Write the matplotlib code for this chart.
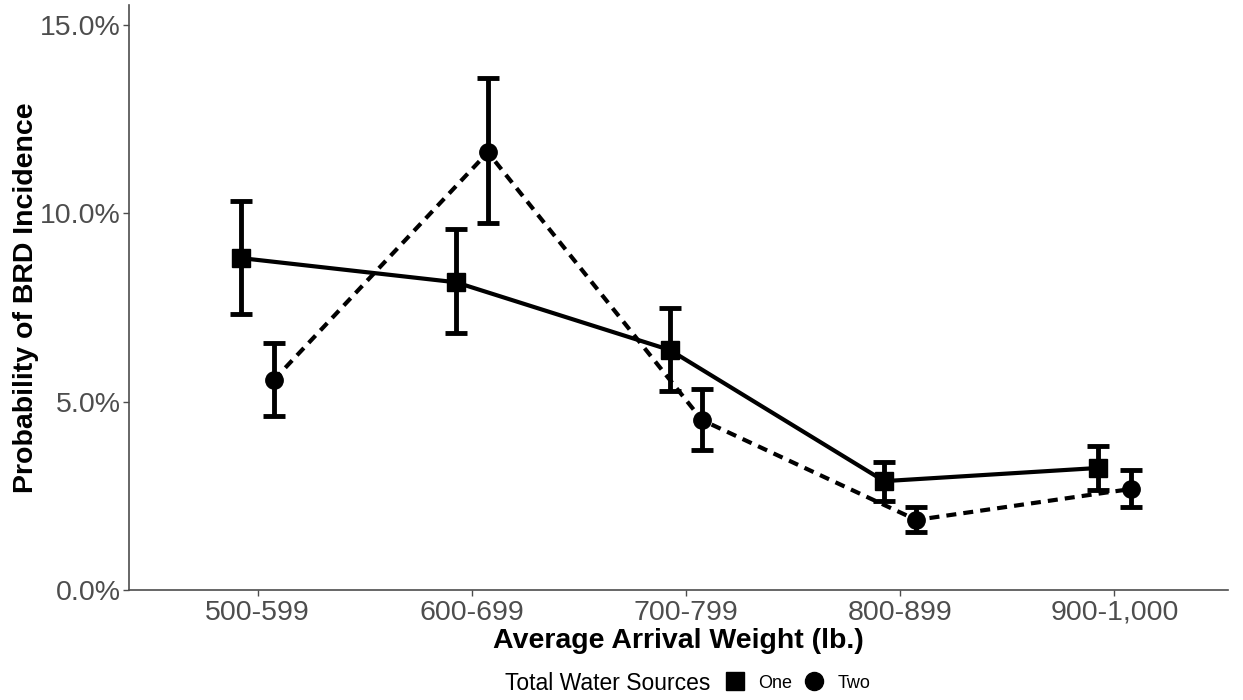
import numpy as np
import matplotlib
matplotlib.use('Agg')
import matplotlib.pyplot as plt
from matplotlib.lines import Line2D
from matplotlib.ticker import PercentFormatter

plt.rcParams['font.family'] = ['Liberation Sans', 'DejaVu Sans']

weights = ['500-599', '600-699', '700-799', '800-899', '900-1,000']
one_mean = [8.81, 8.17, 6.37, 2.89, 3.24]
one_lo = [7.32, 6.82, 5.28, 2.36, 2.65]
one_hi = [10.32, 9.58, 7.48, 3.40, 3.82]
two_mean = [5.57, 11.62, 4.51, 1.86, 2.68]
two_lo = [4.62, 9.73, 3.71, 1.54, 2.20]
two_hi = [6.55, 13.58, 5.33, 2.20, 3.18]

grey = '#4D4D4D'
dodge = 0.075

fig = plt.figure(figsize=(12.43, 7), dpi=100)
ax = fig.add_axes([129 / 1243, 110 / 700, (1228 - 129) / 1243, 585 / 700])

x = np.arange(1, len(weights) + 1)

def draw(xs, mean, lo, hi, marker, ms, ls):
    mean = np.array(mean)
    yerr = [mean - np.array(lo), np.array(hi) - mean]
    ax.errorbar(xs, mean, yerr=yerr, fmt='none', ecolor='black', elinewidth=3.5,
                capsize=8, capthick=3.5, zorder=2)
    line, = ax.plot(xs, mean, color='black', lw=3, ls=ls, zorder=3)
    if ls == '--':
        line.set_dashes((2.4, 1.7))
    ax.plot(xs, mean, ls='none', marker=marker, ms=ms, color='black', zorder=4)

draw(x - dodge, one_mean, one_lo, one_hi, 's', 13, '-')
draw(x + dodge, two_mean, two_lo, two_hi, 'o', 12.5, '--')

ax.set_xlim(0.4, 5.53)
ax.set_ylim(0, 15.53)
ax.set_xticks(x)
ax.set_xticklabels(weights)
ax.set_yticks([0, 5, 10, 15])
ax.yaxis.set_major_formatter(PercentFormatter(decimals=1))
ax.tick_params(colors=grey, labelsize=20.5, length=4, width=1, pad=3)
ax.tick_params(axis='y', pad=2)
for s in ['top', 'right']:
    ax.spines[s].set_visible(False)
for s in ['left', 'bottom']:
    ax.spines[s].set_color(grey)
    ax.spines[s].set_linewidth(1.2)

ax.set_xlabel('Average Arrival Weight (lb.)', fontsize=20.5, fontweight='bold', labelpad=2)
ax.set_ylabel('Probability of BRD Incidence', fontsize=20.5, fontweight='bold', labelpad=1)

fig.text(505 / 1243, 1 - 683 / 700, 'Total Water Sources', fontsize=16.5, va='center', ha='left')
handles = [Line2D([], [], ls='none', marker='s', ms=13, color='black'),
           Line2D([], [], ls='none', marker='o', ms=13, color='black')]
fig.legend(handles, ['One', 'Two'], loc='center left', bbox_to_anchor=(726 / 1243, 1 - 683 / 700),
           ncol=2, frameon=False, fontsize=13, handlelength=1.0, handletextpad=0.8,
           columnspacing=0.7, borderpad=0, borderaxespad=0)

fig.savefig('out.png', dpi=100)
